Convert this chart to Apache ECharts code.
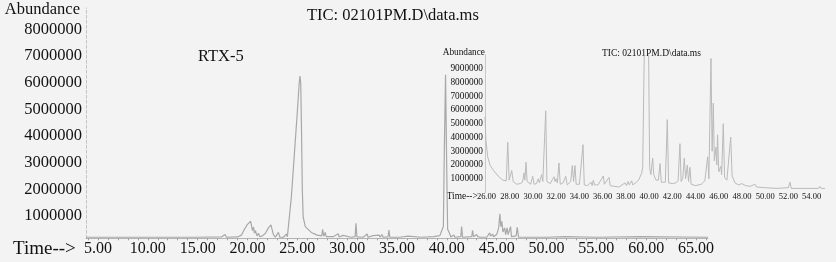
<!DOCTYPE html>
<html>
<head>
<meta charset="utf-8">
<script src="https://cdn.jsdelivr.net/npm/echarts@6/dist/echarts.min.js"></script>
<style>
  html, body { margin: 0; padding: 0; background: #f3f3f3; }
  #chart { width: 836px; height: 262px; }
</style>
</head>
<body>
<div id="chart"></div>
<script>
// main chromatogram (time in min, abundance in millions)
const mainTime = [3.8, 10, 15, 17.4, 17.74, 17.9, 19.0, 19.4, 19.7, 20.0, 20.32, 20.5, 20.6, 20.7, 20.8, 20.95, 21.1, 21.25, 21.5, 21.8, 22.1, 22.35, 22.6, 22.8, 23.1, 23.25, 23.6, 23.9, 24.0,
  24.09, 24.4, 24.7, 25.0, 25.18, 25.26, 25.34, 25.42, 25.5, 25.59, 25.8, 26.4, 27.0, 27.45, 27.54, 27.65, 27.8, 27.9, 28.6, 29.1, 29.2, 29.6, 29.7, 30.4, 30.8, 30.88, 30.98,
  31.6, 32.0, 32.1, 32.6, 32.7, 33.2, 33.3, 33.5, 33.6, 34.1, 34.19, 34.28, 35.3, 36.1, 36.2, 37.4, 38.1, 38.7, 39.3, 39.5, 39.65, 39.75, 39.87, 39.98, 40.08, 40.3, 40.4,
  40.7, 40.8, 41.4, 41.48, 41.58, 42.5, 42.58, 42.68, 43.0, 43.1, 43.3, 43.4, 44.0, 44.3, 44.4, 44.6, 44.7, 45.0, 45.2, 45.32, 45.42, 45.52, 45.62, 45.8, 45.9, 46.05, 46.15,
  46.39, 46.49, 46.95, 47.06, 47.2, 48.5, 50, 51.8, 51.9, 55, 59.5, 59.6, 66.2];
const mainAbund = [0.2, 0.2, 0.2, 0.21, 0.3, 0.2, 0.21, 0.28, 0.5, 0.68, 0.8, 0.45, 0.58, 0.35, 0.45, 0.25, 0.35, 0.22, 0.25, 0.35, 0.55, 0.66, 0.3, 0.2, 0.38, 0.2, 0.2, 0.32, 0.22,
  0.25, 1.7, 3.3, 4.9, 5.95, 6.25, 6.0, 4.2, 2.0, 0.95, 0.6, 0.38, 0.28, 0.25, 0.5, 0.24, 0.38, 0.22, 0.22, 0.33, 0.21, 0.27, 0.2, 0.2, 0.22, 0.72, 0.21,
  0.2, 0.32, 0.2, 0.26, 0.2, 0.28, 0.2, 0.3, 0.2, 0.21, 0.47, 0.2, 0.2, 0.24, 0.19, 0.2, 0.21, 0.22, 0.26, 0.33, 0.6, 3.5, 6.3, 3.0, 0.5, 0.32, 0.21,
  0.28, 0.2, 0.22, 0.6, 0.2, 0.22, 0.46, 0.22, 0.3, 0.22, 0.29, 0.2, 0.2, 0.36, 0.24, 0.32, 0.22, 0.3, 0.55, 1.08, 0.6, 0.8, 0.4, 0.55, 0.3, 0.55, 0.3,
  0.6, 0.22, 0.25, 0.57, 0.2, 0.2, 0.2, 0.22, 0.2, 0.2, 0.22, 0.2, 0.2];

// inset (26-55 min zoom)
const insetTime = [25.87, 25.95, 26.1, 26.3, 26.6, 27.0, 27.4, 27.7, 27.83, 27.95, 28.17, 28.3, 28.6, 28.9, 29.1, 29.23, 29.3, 29.4, 29.5, 29.8, 29.98, 30.1, 30.3, 30.46, 30.55,
  30.75, 30.85, 31.1, 31.2, 31.5, 31.68, 31.81, 31.9, 32.0, 32.1, 32.24, 32.35, 32.6, 32.82, 32.95, 33.25, 33.39, 33.5, 33.62, 33.72, 34.0, 34.31, 34.42, 34.7, 35.0, 35.1,
  35.2, 35.3, 35.6, 36.06, 36.15, 36.3, 36.55, 36.65, 37.0, 37.4, 37.93, 38.05, 38.2, 38.3, 38.5, 38.6, 38.9, 39.1, 39.36, 39.45, 39.6, 39.95, 40.05, 40.15, 40.31, 40.4,
  40.5, 40.6, 40.8, 40.94, 41.05, 41.4, 41.57, 41.68, 42.0, 42.3, 42.5, 42.66, 42.76, 42.9, 43.03, 43.15, 43.29, 43.4, 43.52, 43.62, 44.0, 44.5, 44.8, 45.05, 45.15, 45.33,
  45.43, 45.53, 45.62, 45.76, 45.83, 45.9, 46.0, 46.17, 46.25, 46.39, 46.5, 46.7, 47.03, 47.15, 47.4, 47.7, 48.0, 48.3, 48.7, 49.12, 49.25, 50, 51, 52.0, 52.13, 52.25,
  53, 54.6, 54.7, 54.8, 55.15];
const insetAbund = [5.5, 3.8, 2.6, 2.0, 1.6, 1.2, 0.9, 0.85, 3.65, 0.9, 1.6, 0.8, 0.6, 0.65, 0.75, 1.43, 0.9, 2.2, 0.8, 0.6, 1.18, 0.6, 0.65, 1.0, 0.7,
  1.3, 0.8, 5.94, 0.8, 0.65, 0.95, 1.15, 0.8, 1.0, 0.7, 2.15, 0.6, 0.7, 1.18, 0.55, 0.8, 1.96, 0.8, 1.96, 0.6, 0.6, 3.48, 0.55, 0.5, 0.75, 0.5,
  0.9, 0.55, 0.55, 1.2, 0.6, 0.6, 1.1, 0.5, 0.45, 0.4, 0.7, 0.5, 0.8, 0.55, 0.85, 0.55, 0.75, 0.9, 1.4, 1.8, 11, 11, 1.8, 1.3, 2.5, 1.3,
  1.3, 0.9, 0.9, 2.1, 0.75, 0.75, 5.3, 0.7, 0.65, 0.7, 0.85, 3.55, 0.8, 1.0, 2.5, 1.0, 2.0, 0.8, 1.83, 0.6, 0.5, 0.6, 0.85, 2.6, 1.0, 9.75,
  3.0, 6.5, 2.3, 3.3, 2.0, 4.2, 1.5, 1.9, 1.3, 5.0, 1.1, 0.9, 4.03, 1.2, 0.7, 0.55, 0.65, 0.5, 0.45, 0.6, 0.4, 0.35, 0.3, 0.35, 0.75, 0.3,
  0.3, 0.3, 0.45, 0.3, 0.3];

const mainXTicks = [5, 10, 15, 20, 25, 30, 35, 40, 45, 50, 55, 60, 65];
const mainYTicks = [1, 2, 3, 4, 5, 6, 7, 8];
const insetXTicks = [26, 28, 30, 32, 34, 36, 38, 40, 42, 44, 46, 48, 50, 52, 54];
const insetYTicks = [1, 2, 3, 4, 5, 6, 7, 8, 9];
const minorTicks = [4, 5, 6, 7, 8, 9, 10, 11, 12, 13, 14, 15, 16, 17, 18, 19, 20, 21, 22, 23, 24, 25, 26, 27, 28, 29, 30, 31, 32, 33, 34, 35,
  36, 37, 38, 39, 40, 41, 42, 43, 44, 45, 46, 47, 48, 49, 50, 51, 52, 53, 54, 55, 56, 57, 58, 59, 60, 61, 62, 63, 64, 65, 66];

const FONT = 'Liberation Serif';
const abund = v => String(Math.round(v * 1000000));

const chart = echarts.init(document.getElementById('chart'), null, { renderer: 'canvas' });

function pairs(xs, ys) {
  return xs.map((x, i) => [x, ys[i]]);
}

function txt(text, x, y, size, align) {
  return {
    type: 'text',
    style: { text: text, x: x, y: y, font: size + 'px "' + FONT + '"', fill: '#111', align: align || 'left', verticalAlign: 'middle' }
  };
}

const option = {
  backgroundColor: '#f3f3f3',
  animation: false,
  grid: [
    { left: 86, top: 8, width: 622, height: 230.3 },
    { left: 485, top: 55, width: 340, height: 137.5 }
  ],
  xAxis: [
    {
      gridIndex: 0, type: 'value', min: 3.8, max: 66.2,
      splitLine: { show: false },
      axisLine: { lineStyle: { color: '#b4b4b4', width: 1 } },
      axisTick: { show: true, customValues: minorTicks, length: 2, lineStyle: { color: '#a0a0a0' } },
      axisLabel: {
        customValues: mainXTicks, formatter: v => v.toFixed(2), margin: 2,
        fontFamily: FONT, fontSize: 16, color: '#111'
      }
    },
    {
      gridIndex: 1, type: 'value', min: 25.87, max: 55.15,
      splitLine: { show: false },
      axisLine: { show: false },
      axisTick: { show: false },
      axisLabel: {
        customValues: insetXTicks, formatter: v => v.toFixed(2), margin: 0,
        fontFamily: FONT, fontSize: 8.5, color: '#111'
      }
    }
  ],
  yAxis: [
    {
      gridIndex: 0, type: 'value', min: 0.16, max: 8.8,
      splitLine: { show: false },
      axisLine: { show: true, lineStyle: { color: '#c4c4c4', type: [3, 2] } },
      axisTick: { show: false },
      axisLabel: {
        customValues: mainYTicks, formatter: abund, margin: 4,
        fontFamily: FONT, fontSize: 16.5, color: '#111'
      }
    },
    {
      gridIndex: 1, type: 'value', min: 0, max: 10,
      splitLine: { show: false },
      axisLine: { show: true, lineStyle: { color: '#c8c8c8' } },
      axisTick: { show: false },
      axisLabel: {
        customValues: insetYTicks, formatter: abund, margin: 2,
        fontFamily: FONT, fontSize: 9.3, color: '#111'
      }
    }
  ],
  series: [
    {
      type: 'line', xAxisIndex: 0, yAxisIndex: 0,
      data: pairs(mainTime, mainAbund),
      showSymbol: false,
      lineStyle: { color: '#a8a8a8', width: 1.2 }
    },
    {
      type: 'line', xAxisIndex: 1, yAxisIndex: 1,
      data: pairs(insetTime, insetAbund),
      showSymbol: false, clip: true,
      lineStyle: { color: '#bababa', width: 1 }
    }
  ],
  graphic: [
    txt('Abundance', 80, 10, 16.5, 'right'),
    txt('Time-->', 13, 249, 19, 'left'),
    txt('RTX-5', 198, 57, 16.5, 'left'),
    txt('TIC: 02101PM.D\\data.ms', 307, 16, 16.5, 'left'),
    txt('Abundance', 485, 52.7, 9.3, 'right'),
    txt('Time-->', 446.7, 196.7, 9.4, 'left'),
    txt('TIC: 02101PM.D\\data.ms', 602, 53.3, 9.5, 'left')
  ]
};

chart.setOption(option);
</script>
</body>
</html>
